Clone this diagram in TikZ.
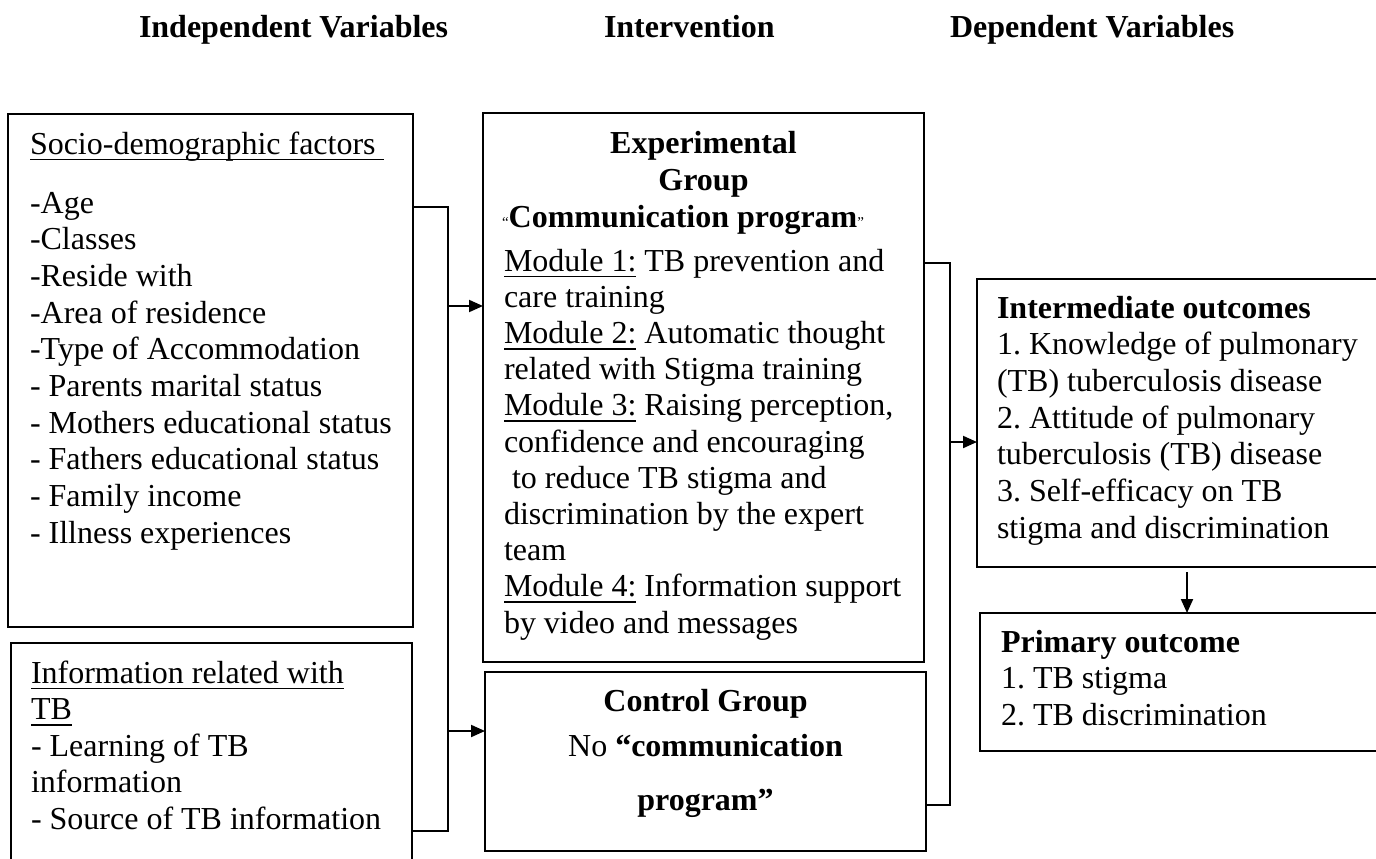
\documentclass[tikz,border=0pt]{standalone}
\usepackage{fontspec}
\setmainfont{Liberation Serif}
\usetikzlibrary{arrows.meta}
\frenchspacing
\newsavebox\ulbox
\newcommand\ulx[1]{\sbox\ulbox{#1}\rlap{\rule[-6.1pt]{\wd\ulbox}{1.6pt}}\usebox\ulbox}
\newcommand\bodyfs{\fontsize{32}{36.67}\selectfont}
\newcommand\smallq[1]{{\fontsize{15}{15}\selectfont #1}}
\tikzset{
  box/.style={draw, line width=1.5pt, inner sep=0pt, outer sep=0pt, anchor=north west},
  boxthick/.style={box, line width=2pt},
  txt/.style={inner sep=0pt, outer sep=0pt, font=\bodyfs, align=left},
  conn/.style={line width=2pt},
  arr/.style={line width=2pt, -{Triangle[length=14pt,width=12pt]}},
}
\begin{document}
\begin{tikzpicture}[x=1pt,y=-1pt]
\useasboundingbox (0,0) rectangle (1376,859);
% headers
\node[txt, anchor=base west] (hIV) at (139,38) {\textbf{Independent Variables}};
\node[txt, anchor=base west] (hInt) at (604,38) {\textbf{Intervention}};
\node[txt, anchor=base west] (hDV) at (950,38) {\textbf{Dependent Variables}};
% boxes
\node[boxthick, minimum width=405pt, minimum height=513pt] (A) at (8,114) {};
\node[boxthick, minimum width=401pt, minimum height=240pt] (D) at (11,643) {};
\node[box, minimum width=441pt, minimum height=549pt] (B) at (483,113) {};
\node[box, minimum width=441pt, minimum height=179pt] (C) at (485,672) {};
\node[box, minimum width=420pt, minimum height=288pt] (E) at (977,279) {};
\node[box, minimum width=420pt, minimum height=138pt] (F) at (980,613) {};
% texts of A
\node[txt, anchor=base west] (Ah) at (30,154) {\ulx{Socio-demographic factors\ }};
\node[txt, anchor=north west] (Al) at (30,187.33) {\strut-Age\\-Classes\\-Reside with\\-Area of residence\\-Type of Accommodation\\- Parents marital status\\- Mothers educational status\\- Fathers educational status\\- Family income\\- Illness experiences};
% texts of D
\node[txt, anchor=north west, font=\fontsize{32}{36.5}\selectfont] (Dl) at (31,657.45) {\strut\ulx{Information related with}\\\ulx{TB}\\- Learning of TB\\information\\- Source of TB information};
% texts of B
\node[txt, align=center, anchor=north, font=\fontsize{32}{37}\selectfont] (Bh) at (703.5,127.1) {\strut\textbf{Experimental}\\\textbf{Group}};
\node[txt, anchor=base west] (Bq) at (502,227) {\smallq{“}\textbf{Communication program}\smallq{”}};
\node[txt, anchor=north west, font=\fontsize{32}{36.2}\selectfont] (Bl) at (504,245.66) {\strut\ulx{Module 1:} TB prevention and\\care training\\\ulx{Module 2:} Automatic thought\\related with Stigma training\\\ulx{Module 3:} Raising perception,\\confidence and encouraging\\\hspace*{8pt}to reduce TB stigma and\\discrimination by the expert\\team\\\ulx{Module 4:} Information support\\by video and messages};
% texts of C
\node[txt, anchor=base] (Ct1) at (705.5,711) {\textbf{Control Group}};
\node[txt, anchor=base] (Ct2) at (705.5,756) {No \textbf{“communication}};
\node[txt, anchor=base] (Ct3) at (705.5,810) {\textbf{program”}};
% texts of E
\node[txt, anchor=north west] (Et) at (997,292.33) {\strut\textbf{Intermediate outcomes}\\1. Knowledge of pulmonary\\(TB) tuberculosis disease\\2. Attitude of pulmonary\\tuberculosis (TB) disease\\3. Self-efficacy on TB\\stigma and discrimination};
% texts of F
\node[txt, anchor=north west] (Ft) at (1001,626.33) {\strut\textbf{Primary outcome}\\1. TB stigma\\2. TB discrimination};
% left bracket
\coordinate (lt) at (448,207);
\coordinate (lb) at (448,831);
\draw[conn] (A.east |- lt) -- (lt) -- (lb) -- (D.east |- lb);
\coordinate (la1) at (448,306);
\coordinate (la2) at (448,731);
\draw[arr] (la1) -- (la1 -| B.west);
\draw[arr] (la2) -- (la2 -| C.west);
% right bracket
\coordinate (rt) at (950,263);
\coordinate (rb) at (950,805);
\draw[conn] (rt -| B.east) -- (rt) -- (rb) -- (rb -| C.east);
\coordinate (ra) at (950,442);
\draw[arr] (ra) -- (ra -| E.west);
% down arrow
\coordinate (da) at (1187,572);
\draw[arr] (da) -- (da |- F.north);
\end{tikzpicture}
\end{document}
